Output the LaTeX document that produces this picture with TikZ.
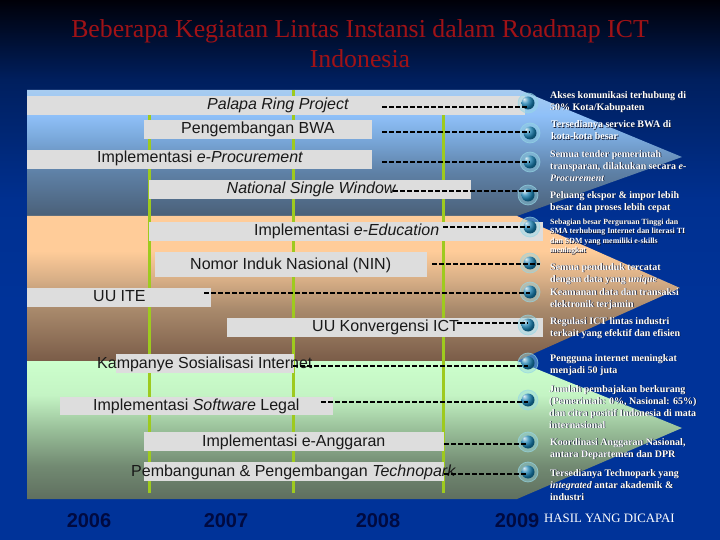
\documentclass[tikz,border=0pt]{standalone}
\usepackage{fontspec}
\setmainfont{Liberation Serif}
\setsansfont{Liberation Sans}
\usepackage{xcolor}
\usepackage{tikz}
\definecolor{judulred}{RGB}{160,18,22}
\definecolor{yearnavy}{RGB}{0,10,64}
\definecolor{bargray}{RGB}{221,221,221}
\definecolor{linegreen}{RGB}{158,202,30}
\definecolor{halo}{RGB}{150,215,230}
\definecolor{globeblue}{RGB}{20,125,175}
\definecolor{shadowdark}{RGB}{16,24,50}
\definecolor{bga}{RGB}{0,0,8}
\definecolor{bgb}{RGB}{0,31,94}
\definecolor{bgc}{RGB}{0,48,144}
\definecolor{bgd}{RGB}{0,51,153}
\definecolor{biru1}{RGB}{168,204,240}
\definecolor{biru2}{RGB}{143,192,248}
\definecolor{biru3}{RGB}{120,166,216}
\definecolor{biru4}{RGB}{95,130,168}
\definecolor{biru5}{RGB}{74,96,120}
\definecolor{oranye1}{RGB}{255,204,153}
\definecolor{oranye2}{RGB}{215,174,134}
\definecolor{oranye3}{RGB}{169,138,108}
\definecolor{oranye4}{RGB}{122,92,72}
\definecolor{hijau1}{RGB}{204,255,204}
\definecolor{hijau2}{RGB}{196,244,196}
\definecolor{hijau3}{RGB}{152,190,152}
\definecolor{hijau4}{RGB}{114,138,114}
\definecolor{hijau5}{RGB}{95,111,95}
\pgfdeclareverticalshading{latar}{100bp}{color(0bp)=(bgd); color(25bp)=(bgd); color(47bp)=(bgd);
  color(56.5bp)=(bgc); color(67.6bp)=(bgb); color(75bp)=(bga); color(100bp)=(bga)}
\pgfdeclareverticalshading{pitabiru}{100bp}{color(0bp)=(biru5); color(25bp)=(biru5); color(43bp)=(biru4);
  color(55bp)=(biru3); color(65bp)=(biru2); color(75bp)=(biru1); color(100bp)=(biru1)}
\pgfdeclareverticalshading{pitaoranye}{100bp}{color(0bp)=(oranye4); color(25bp)=(oranye4); color(43bp)=(oranye3);
  color(53bp)=(oranye2); color(63bp)=(oranye1); color(100bp)=(oranye1)}
\pgfdeclareverticalshading{pitahijau}{100bp}{color(0bp)=(hijau5); color(25bp)=(hijau5); color(37bp)=(hijau4);
  color(50bp)=(hijau3); color(62.7bp)=(hijau2); color(75bp)=(hijau1); color(100bp)=(hijau1)}
\newcommand{\bayang}[1]{\makebox[0pt][l]{\kern.7pt\raisebox{-.7pt}{\color{shadowdark}#1}}#1}
\begin{document}
\begin{tikzpicture}[
  x=1pt,y=-1pt,
  bar/.style={fill=bargray},
  tahun/.style={line width=3pt,draw=linegreen},
  putus/.style={draw=black,line width=1.6pt,dash pattern=on 4.5pt off 2.5pt},
  kegiatan/.style={anchor=base west,inner sep=0pt,text=black!90,font=\sffamily\fontsize{16}{18}\selectfont},
  hasil/.style={anchor=west,inner sep=0pt,align=left,text=white,font=\bfseries\fontsize{10}{12}\selectfont},
  year/.style={anchor=base,inner sep=0pt,text=yearnavy,font=\sffamily\bfseries\fontsize{20}{22}\selectfont},
  globe/.style={circle,inner sep=0pt,minimum size=20pt,draw=halo,draw opacity=.7,line width=.7pt,
    fill=halo,fill opacity=.45,
    path picture={\shade[ball color=globeblue,opacity=1] (path picture bounding box.center) circle (6.5);}}
]
\useasboundingbox (0,0) rectangle (720,540);
\shade[shading=latar] (0,0) rectangle (720,540);
% the three arrow bands
\shade[shading=pitabiru] (27,90) -- (520,90) -- (682,157) -- (517,216) -- (27,216) -- cycle;
\shade[shading=pitaoranye] (27,216) -- (517,216) -- (680,288) -- (517,361) -- (27,361) -- cycle;
\shade[shading=pitahijau] (27,361) -- (517,361) -- (682,428) -- (517,499) -- (27,499) -- cycle;
% year lines
\coordinate (l1a) at (149,100);
\coordinate (l1b) at (149,493);
\coordinate (l2a) at (293,90);
\coordinate (l2b) at (293,493);
\coordinate (l3a) at (443.5,100);
\coordinate (l3b) at (443.5,493);
\draw[tahun] (l1a) -- (l1b);
\draw[tahun] (l2a) -- (l2b);
\draw[tahun] (l3a) -- (l3b);
% activity bars
\fill[bar] (27,96) rectangle (525,115);
\fill[bar] (144,120) rectangle (372,139);
\fill[bar] (27,150) rectangle (372,169);
\fill[bar] (149,180) rectangle (471,199);
\fill[bar] (149,222) rectangle (543,241);
\fill[bar] (155,252) rectangle (427,277);
\fill[bar] (27,288) rectangle (211,307);
\fill[bar] (227,318) rectangle (543,337);
\fill[bar] (116,354) rectangle (294,373);
\fill[bar] (60,397) rectangle (333,415);
\fill[bar] (144,432) rectangle (444,451);
\fill[bar] (144,462) rectangle (444,481);
% activity labels
\node[kegiatan] (palapa) at (207,110) {\itshape Palapa Ring Project};
\node[kegiatan] (bwa) at (181,134) {Pengembangan BWA};
\node[kegiatan] (eproc) at (97,163) {Implementasi \textit{e-Procurement}};
\node[kegiatan] (nsw) at (226.5,194) {\itshape National Single Window};
\node[kegiatan] (eedu) at (254,236) {Implementasi \textit{e-Education}};
\node[kegiatan] (nin) at (190,269) {Nomor Induk Nasional (NIN)};
\node[kegiatan] (ite) at (93,301) {UU ITE};
\node[kegiatan] (konv) at (312,331) {UU Konvergensi ICT};
\node[kegiatan] (kampanye) at (97,368) {Kampanye Sosialisasi Internet};
\node[kegiatan] (legal) at (93,410) {Implementasi \textit{Software} Legal};
\node[kegiatan] (anggaran) at (202,446) {Implementasi e-Anggaran};
\node[kegiatan] (techno) at (131,476) {Pembangunan \& Pengembangan \textit{Technopark}};
% globes on the right
\node[globe] (g1) at (528,103) {};
\node[globe] (g2) at (530,133) {};
\node[globe] (g3) at (530,162) {};
\node[globe] (g4) at (528,195) {};
\node[globe] (g5) at (530,227) {};
\node[globe] (g6) at (530,263) {};
\node[globe] (g7) at (530,292) {};
\node[globe] (g8) at (528,325) {};
\node[globe] (g9) at (528,363) {};
\node[globe] (g10) at (528,400) {};
\node[globe] (g11) at (528,442) {};
\node[globe] (g12) at (528,472) {};
% dashed connectors
\coordinate (d1) at (382,107);
\coordinate (d2) at (382,132);
\coordinate (d3) at (382,162);
\coordinate (d4) at (393,191);
\coordinate (d5) at (443,227);
\coordinate (d6) at (432,264);
\coordinate (d7) at (204,293);
\coordinate (d8) at (457,323);
\coordinate (d9) at (293,366);
\coordinate (d10) at (321,402);
\coordinate (d11) at (444,444);
\coordinate (d12) at (444,474);
\draw[putus] (d1) -- (d1 -| g1.center);
\draw[putus] (d2) -- (d2 -| g2.center);
\draw[putus] (d3) -- (d3 -| g3.center);
\draw[putus] (d4) -- (d4 -| g4.east);
\draw[putus] (d5) -- (d5 -| g5.center);
\draw[putus] (d6) -- (d6 -| g6.east);
\draw[putus] (d7) -- (d7 -| g7.center);
\draw[putus] (d8) -- (d8 -| g8.center);
\draw[putus] (d9) -- (d9 -| g9.center);
\draw[putus] (d10) -- (d10 -| g10.center);
\draw[putus] (d11) -- (d11 -| g11.center);
\draw[putus] (d12) -- (d12 -| g12.center);
% results
\node[hasil] (h1) at (550,102) {\bayang{Akses komunikasi terhubung di}\\\bayang{50\% Kota/Kabupaten}};
\node[hasil] (h2) at (551,130.5) {\bayang{Tersedianya service BWA di}\\\bayang{kota-kota besar}};
\node[hasil] (h3) at (550,166) {\bayang{Semua tender pemerintah}\\\bayang{transparan, dilakukan secara \textit{e-}}\\\bayang{\textit{Procurement}}};
\node[hasil] (h4) at (550,202) {\bayang{Peluang ekspor \& impor lebih}\\\bayang{besar dan proses lebih cepat}};
\node[hasil,font=\bfseries\fontsize{7.9}{9.6}\selectfont] (h5) at (550,237) {\bayang{Sebagian besar Perguruan Tinggi dan}\\\bayang{SMA terhubung Internet dan literasi TI}\\\bayang{dan SDM yang memiliki e-skills}\\\bayang{meningkat}};
\node[hasil] (h6) at (550,274) {\bayang{Semua penduduk tercatat}\\\bayang{dengan data yang \textit{unique}}};
\node[hasil] (h7) at (550,299) {\bayang{Keamanan data dan transaksi}\\\bayang{elektronik terjamin}};
\node[hasil] (h8) at (550,328) {\bayang{Regulasi ICT lintas industri}\\\bayang{terkait yang efektif dan efisien}};
\node[hasil] (h9) at (550,365) {\bayang{Pengguna internet meningkat}\\\bayang{menjadi 50 juta}};
\node[hasil] (h10) at (549,407) {\bayang{Jumlah pembajakan berkurang}\\\bayang{(Pemerintah: 0\%, Nasional: 65\%)}\\\bayang{dan citra positif Indonesia di mata}\\\bayang{internasional}};
\node[hasil] (h11) at (550,449) {\bayang{Koordinasi Anggaran Nasional,}\\\bayang{antara Departemen dan DPR}};
\node[hasil] (h12) at (550,485) {\bayang{Tersedianya Technopark yang}\\\bayang{\textit{integrated} antar akademik \&}\\\bayang{industri}};
% years and title
\node[year] (y06) at (89,527) {2006};
\node[year] (y07) at (226,527) {2007};
\node[year] (y08) at (378,527) {2008};
\node[year] (y09) at (517,527) {2009};
\node[anchor=base west,inner sep=0pt,text=white,font=\fontsize{12.8}{14}\selectfont] (capai) at (544,522) {HASIL YANG DICAPAI};
\node[align=center,inner sep=0pt,text=judulred,font=\fontsize{25.8}{30}\selectfont] (judul) at (360,43.5) {Beberapa Kegiatan Lintas Instansi dalam Roadmap ICT\\Indonesia};
\end{tikzpicture}
\end{document}
